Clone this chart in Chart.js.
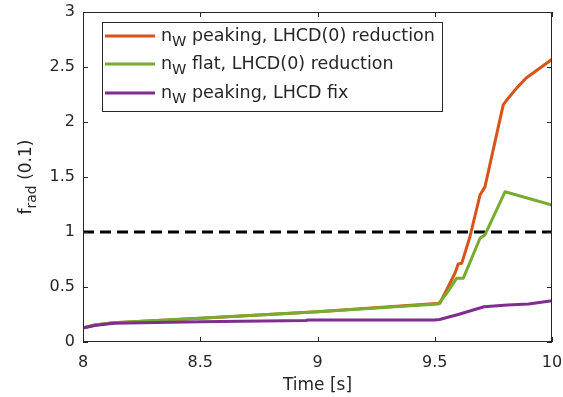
<!DOCTYPE html>
<html>
<head>
<meta charset="utf-8">
<script src="https://cdn.jsdelivr.net/npm/chart.js@4/dist/chart.umd.min.js"></script>
<style>
  html, body { margin: 0; padding: 0; background: #fff; }
  #wrap { width: 563px; height: 397px; }
</style>
</head>
<body>
<div id="wrap"><canvas id="fradChart"></canvas></div>
<script>
// times [s] and f_rad values
const orangeT = [8, 8.05, 8.13, 8.5, 9.0, 9.522, 9.55, 9.586, 9.60, 9.615, 9.65, 9.693, 9.714, 9.792, 9.807, 9.85, 9.89, 10];
const orangeY = [0.13, 0.155, 0.175, 0.215, 0.275, 0.352, 0.47, 0.625, 0.71, 0.715, 0.957, 1.336, 1.41, 2.155, 2.2, 2.31, 2.40, 2.57];

const greenT = [8, 8.05, 8.13, 8.5, 9.0, 9.515, 9.55, 9.593, 9.622, 9.693, 9.714, 9.80, 10];
const greenY = [0.13, 0.155, 0.175, 0.215, 0.275, 0.345, 0.44, 0.579, 0.58, 0.943, 0.973, 1.366, 1.245];

const purpleT = [8, 8.05, 8.13, 8.5, 8.95, 8.96, 9.5, 9.52, 9.6, 9.71, 9.81, 9.9, 10];
const purpleY = [0.127, 0.15, 0.17, 0.185, 0.195, 0.2, 0.2, 0.205, 0.25, 0.32, 0.336, 0.345, 0.375];

const limitT = [8, 10];
const limitY = [1, 1];

const xTicks = [8, 8.5, 9, 9.5, 10];
const yTicks = [0, 0.5, 1, 1.5, 2, 2.5, 3];

const seriesNames = [
  ['n', 'W', ' peaking, LHCD(0) reduction'],
  ['n', 'W', ' flat, LHCD(0) reduction'],
  ['n', 'W', ' peaking, LHCD fix']
];
const seriesColors = ['#D95319', '#77AC30', '#7E2F8E'];

function pts(t, y) {
  return t.map((v, i) => ({ x: v, y: y[i] }));
}

const FONT = '"DejaVu Sans", sans-serif';
const AXIS_COLOR = '#262626';

// inward ticks on all four sides, box, legend, axis titles with subscripts
const matlabDecor = {
  id: 'matlabDecor',
  afterDatasetsDraw(chart) {
    const ctx = chart.ctx;
    const a = chart.chartArea;
    const xs = chart.scales.x, ys = chart.scales.y;
    ctx.save();
    ctx.strokeStyle = AXIS_COLOR;
    ctx.lineWidth = 1;
    ctx.strokeRect(a.left + 0.5, a.top + 0.5, a.right - a.left - 1, a.bottom - a.top - 1);
    ctx.beginPath();
    xTicks.forEach(v => {
      const px = Math.round(xs.getPixelForValue(v)) + 0.5;
      ctx.moveTo(px, a.bottom); ctx.lineTo(px, a.bottom - 5);
      ctx.moveTo(px, a.top); ctx.lineTo(px, a.top + 5);
    });
    yTicks.forEach(v => {
      const py = Math.round(ys.getPixelForValue(v)) + 0.5;
      ctx.moveTo(a.left, py); ctx.lineTo(a.left + 5, py);
      ctx.moveTo(a.right, py); ctx.lineTo(a.right - 5, py);
    });
    ctx.stroke();

    // legend
    const lx = 102, ly = 22, lw = 340, lh = 89;
    ctx.fillStyle = '#fff';
    ctx.fillRect(lx, ly, lw, lh);
    ctx.strokeRect(lx + 0.5, ly + 0.5, lw, lh);
    const rows = [36, 64, 93];
    seriesNames.forEach((parts, i) => {
      const y = rows[i];
      ctx.strokeStyle = seriesColors[i];
      ctx.lineWidth = 3;
      ctx.beginPath();
      ctx.moveTo(105, y); ctx.lineTo(155, y);
      ctx.stroke();
      ctx.fillStyle = AXIS_COLOR;
      ctx.textBaseline = 'alphabetic';
      ctx.textAlign = 'left';
      let x = 161;
      ctx.font = '17.5px ' + FONT;
      ctx.fillText(parts[0], x, y + 5);
      x += ctx.measureText(parts[0]).width;
      ctx.font = '14.5px ' + FONT;
      ctx.fillText(parts[1], x, y + 10);
      x += ctx.measureText(parts[1]).width;
      ctx.font = '17.5px ' + FONT;
      ctx.fillText(parts[2], x, y + 5);
    });

    // x title
    ctx.fillStyle = AXIS_COLOR;
    ctx.font = '17px ' + FONT;
    ctx.textAlign = 'center';
    ctx.textBaseline = 'alphabetic';
    ctx.fillText('Time [s]', (a.left + a.right) / 2, 390);

    // y title, rotated, with subscript
    ctx.translate(31, 177);
    ctx.rotate(-Math.PI / 2);
    ctx.textAlign = 'left';
    ctx.font = '17px ' + FONT;
    const w1 = ctx.measureText('f').width;
    const w3 = ctx.measureText(' (0.1)').width;
    ctx.font = '14px ' + FONT;
    const w2 = ctx.measureText('rad').width;
    let x0 = -(w1 + w2 + w3) / 2;
    ctx.font = '17px ' + FONT;
    ctx.fillText('f', x0, 0);
    x0 += w1;
    ctx.font = '14px ' + FONT;
    ctx.fillText('rad', x0, 5);
    x0 += w2;
    ctx.font = '17px ' + FONT;
    ctx.fillText(' (0.1)', x0, 0);
    ctx.restore();
  }
};

const ctx = document.getElementById('fradChart').getContext('2d');
const fradChart = new Chart(ctx, {
  type: 'line',
  data: {
    datasets: [
      {
        label: 'peaking, LHCD(0) reduction',
        data: pts(orangeT, orangeY),
        borderColor: seriesColors[0],
        borderWidth: 3,
        order: 3
      },
      {
        label: 'flat, LHCD(0) reduction',
        data: pts(greenT, greenY),
        borderColor: seriesColors[1],
        borderWidth: 3,
        order: 2
      },
      {
        label: 'peaking, LHCD fix',
        data: pts(purpleT, purpleY),
        borderColor: seriesColors[2],
        borderWidth: 3,
        order: 1
      },
      {
        label: 'limit',
        data: pts(limitT, limitY),
        borderColor: '#000',
        borderWidth: 3,
        borderDash: [11, 6],
        order: 4
      }
    ]
  },
  options: {
    responsive: true,
    maintainAspectRatio: false,
    animation: false,
    devicePixelRatio: 1,
    layout: { padding: { left: 0, right: 11, top: 12, bottom: 0 } },
    elements: {
      point: { radius: 0 },
      line: { tension: 0, borderCapStyle: 'butt', borderJoinStyle: 'round' }
    },
    plugins: {
      legend: { display: false },
      tooltip: { enabled: false }
    },
    scales: {
      x: {
        type: 'linear',
        min: 8,
        max: 10,
        afterFit: s => { s.height = 55; s.paddingLeft = 0; s.paddingRight = 0; },
        afterBuildTicks: s => { s.ticks = xTicks.map(v => ({ value: v })); },
        grid: { display: false, drawTicks: false },
        border: { display: false },
        ticks: {
          color: AXIS_COLOR,
          font: { family: FONT, size: 16 },
          padding: 11,
          maxRotation: 0,
          callback: v => String(v)
        }
      },
      y: {
        type: 'linear',
        min: 0,
        max: 3,
        afterFit: s => { s.width = 83; s.paddingTop = 0; s.paddingBottom = 0; },
        afterBuildTicks: s => { s.ticks = yTicks.map(v => ({ value: v })); },
        grid: { display: false, drawTicks: false },
        border: { display: false },
        ticks: {
          color: AXIS_COLOR,
          font: { family: FONT, size: 16 },
          padding: 8,
          callback: v => String(v)
        }
      }
    }
  },
  plugins: [matlabDecor]
});
</script>
</body>
</html>
